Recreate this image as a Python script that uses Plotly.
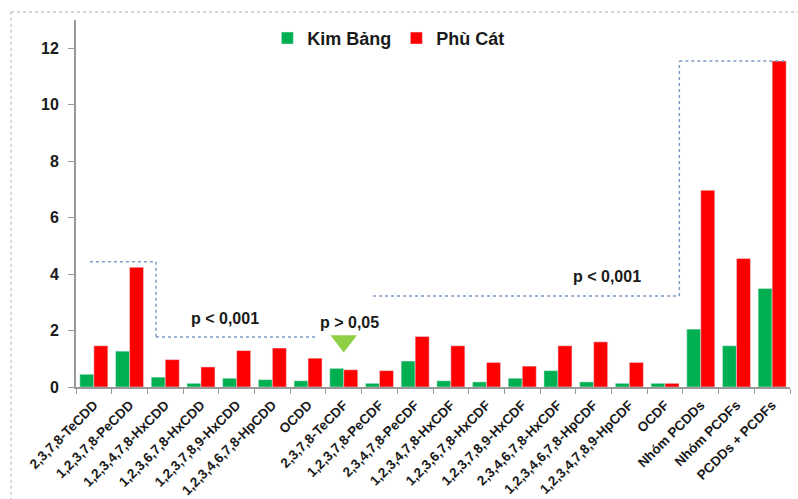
import plotly.graph_objects as go

# Congeners / groups on the x axis
categories = [
    "2,3,7,8-TeCDD", "1,2,3,7,8-PeCDD", "1,2,3,4,7,8-HxCDD", "1,2,3,6,7,8-HxCDD",
    "1,2,3,7,8,9-HxCDD", "1,2,3,4,6,7,8-HpCDD", "OCDD", "2,3,7,8-TeCDF",
    "1,2,3,7,8-PeCDF", "2,3,4,7,8-PeCDF", "1,2,3,4,7,8-HxCDF", "1,2,3,6,7,8-HxCDF",
    "1,2,3,7,8,9-HxCDF", "2,3,4,6,7,8-HxCDF", "1,2,3,4,6,7,8-HpCDF",
    "1,2,3,4,7,8,9-HpCDF", "OCDF", "Nhóm PCDDs", "Nhóm PCDFs", "PCDDs + PCDFs",
]

kim_bang = [0.45, 1.27, 0.35, 0.13, 0.31, 0.26, 0.22, 0.66, 0.13, 0.92,
            0.22, 0.18, 0.31, 0.58, 0.18, 0.13, 0.13, 2.05, 1.46, 3.49]
phu_cat = [1.46, 4.24, 0.97, 0.71, 1.29, 1.38, 1.02, 0.61, 0.58, 1.79,
           1.46, 0.87, 0.74, 1.46, 1.60, 0.87, 0.13, 6.97, 4.55, 11.55]

y_ticks = [0, 2, 4, 6, 8, 10, 12]

GREEN = "#00b050"
RED = "#ff0000"
DASH = "#7f9cc6"
FONT = "Liberation Sans, Arial, sans-serif"

fig = go.Figure()
fig.add_trace(go.Bar(x=categories, y=kim_bang, name="<b>Kim Bảng</b>", marker_color=GREEN))
fig.add_trace(go.Bar(x=categories, y=phu_cat, name="<b>Phù Cát</b>", marker_color=RED))

# marker pointing at the non-significant congener (2,3,7,8-TeCDF)
fig.add_trace(go.Scatter(
    x=[categories[7]], y=[1.63], mode="markers", showlegend=False, hoverinfo="skip",
    marker=dict(symbol="triangle-down", size=23, color="#8fcf45", line=dict(width=0)),
))

dline = dict(color=DASH, width=1.5, dash="dot")
shapes = [
    # bracket over the individual PCDDs
    dict(type="line", xref="x", yref="y", x0=-0.11, x1=1.74, y0=4.44, y1=4.44, line=dline),
    dict(type="line", xref="x", yref="y", x0=1.74, x1=1.74, y0=4.44, y1=1.77, line=dline),
    dict(type="line", xref="x", yref="y", x0=1.74, x1=6.22, y0=1.77, y1=1.77, line=dline),
    # bracket over the PCDFs and group totals
    dict(type="line", xref="x", yref="y", x0=7.82, x1=16.4, y0=3.22, y1=3.22, line=dline),
    dict(type="line", xref="x", yref="y", x0=16.4, x1=16.4, y0=3.22, y1=max(phu_cat), line=dline),
    dict(type="line", xref="x", yref="y", x0=16.4, x1=19.4, y0=max(phu_cat), y1=max(phu_cat), line=dline),
    # outer frame
    dict(type="line", xref="paper", yref="paper", x0=-0.091, x1=-0.091, y0=-0.31, y1=1.022,
         line=dict(color="#b0b0b0", width=1, dash="dot")),
    dict(type="line", xref="paper", yref="paper", x0=-0.091, x1=1.02, y0=1.022, y1=1.022,
         line=dict(color="#b0b0b0", width=1, dash="dot")),
]

annfont = dict(family=FONT, size=16, color="#1a1a1a")
annotations = [
    dict(x=3.66, y=2.44, xref="x", yref="y", text="<b>p < 0,001</b>", showarrow=False, font=annfont),
    dict(x=7.17, y=2.27, xref="x", yref="y", text="<b>p > 0,05</b>", showarrow=False, font=annfont),
    dict(x=14.37, y=3.93, xref="x", yref="y", text="<b>p < 0,001</b>", showarrow=False, font=annfont),
]

fig.update_layout(
    width=798, height=499,
    margin=dict(l=76, r=8, t=20, b=112),
    paper_bgcolor="white", plot_bgcolor="white",
    barmode="group", bargap=0.215, bargroupgap=0,
    font=dict(family=FONT, color="#1a1a1a"),
    legend=dict(orientation="h", x=0.268, y=0.95, xanchor="left", yanchor="middle",
                font=dict(family=FONT, size=18, color="#1a1a1a"),
                bgcolor="rgba(0,0,0,0)", itemwidth=30, traceorder="normal"),
    shapes=shapes, annotations=annotations,
)
fig.update_xaxes(
    type="category", tickangle=-45, tickson="boundaries", ticks="outside", ticklen=5,
    tickcolor="#999999", showline=True, linecolor="#999999", linewidth=2,
    tickfont=dict(family=FONT, size=13.5, color="#1a1a1a"),
    tickvals=categories, ticktext=[f"<b>{c}</b>" for c in categories],
    showgrid=False, range=[-0.5, len(categories) - 0.5], ticklabelstandoff=3,
    automargin=False,
)
fig.update_yaxes(
    range=[0, 13], tickvals=y_ticks, ticktext=[f"<b>{v}</b>" for v in y_ticks],
    ticks="outside", ticklen=6, tickcolor="#999999", showline=True,
    linecolor="#999999", linewidth=2, showgrid=False, zeroline=False,
    tickfont=dict(family=FONT, size=16, color="#1a1a1a"), ticklabelstandoff=6,
    automargin=False,
)

fig.write_html("out.html")
